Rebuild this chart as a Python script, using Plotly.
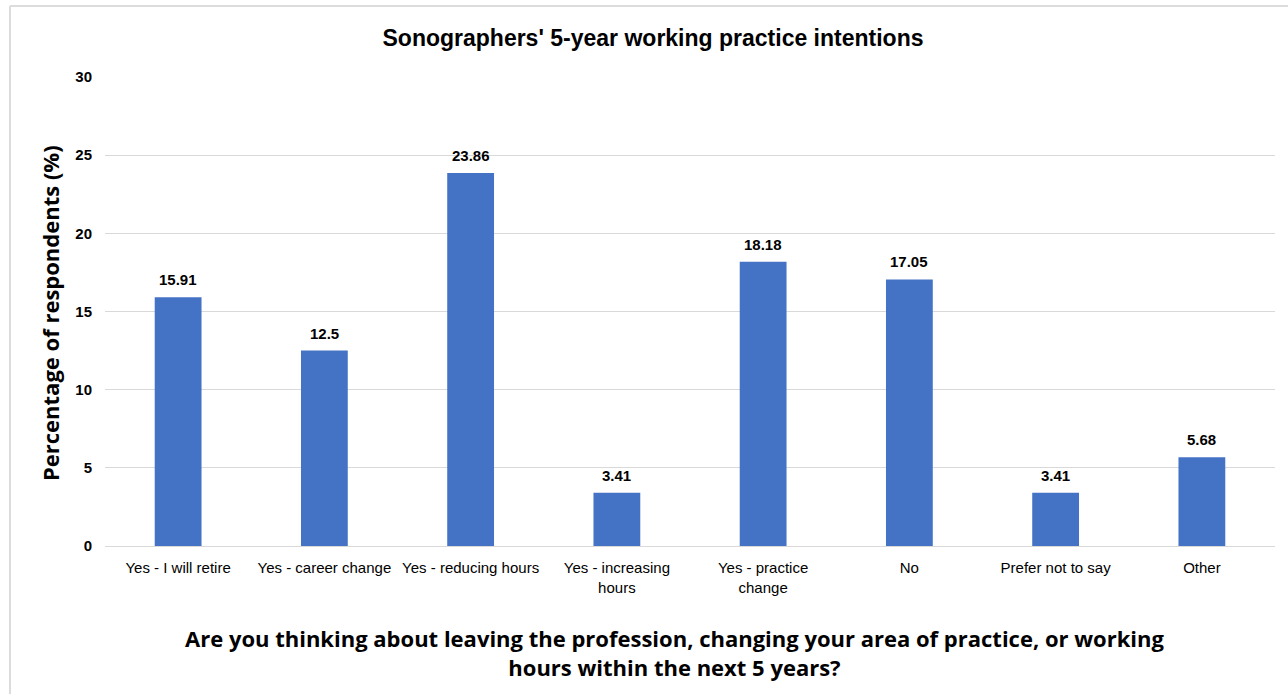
import plotly.graph_objects as go

categories = ["Yes - I will retire", "Yes - career change", "Yes - reducing hours",
              "Yes - increasing<br>hours", "Yes - practice<br>change", "No",
              "Prefer not to say", "Other"]
values = [15.91, 12.5, 23.86, 3.41, 18.18, 17.05, 3.41, 5.68]
value_labels = ["15.91", "12.5", "23.86", "3.41", "18.18", "17.05", "3.41", "5.68"]
y_ticks = [0, 5, 10, 15, 20, 25, 30]

base = "Liberation Sans, Arial"
wide = "Open Sans, Liberation Sans"

fig = go.Figure()
fig.add_trace(go.Bar(
    x=categories, y=values, marker_color="#4472C4", marker_line_width=0,
    width=0.32,
))

for c, v, t in zip(categories, values, value_labels):
    fig.add_annotation(x=c, y=v, text="<b>" + t + "</b>", showarrow=False,
                       yanchor="bottom", yshift=7,
                       font=dict(family=base, size=15, color="#000000"))

L, R, T, B = 105, 13, 77, 148
W, H = 1288, 694
pw, ph = W - L - R, H - T - B

fig.update_layout(
    width=W, height=H,
    margin=dict(l=L, r=R, t=T, b=B),
    paper_bgcolor="white", plot_bgcolor="white",
    showlegend=False,
    title=dict(text="<b>Sonographers' 5-year working practice intentions</b>",
               x=653 / W, xanchor="center", y=1 - 38 / H, yanchor="middle",
               font=dict(family=base, size=23, color="#000000")),
    xaxis=dict(showgrid=False, showline=True, linecolor="#d9d9d9", linewidth=1,
               ticks="", ticklabelstandoff=8,
               tickfont=dict(family=base, size=15, color="#000000")),
    yaxis=dict(range=[0, 30], tickvals=y_ticks, showgrid=True, gridcolor="#d9d9d9",
               zeroline=False, ticks="", ticklabelstandoff=12,
               tickfont=dict(family=base, size=15, color="#000000", weight="bold")),
    shapes=[
        dict(type="line", xref="paper", yref="paper",
             x0=(10 - L) / pw, x1=(1300 - L) / pw,
             y0=(H - B - 6) / ph, y1=(H - B - 6) / ph,
             line=dict(color="#dcdcdc", width=2), layer="below"),
        dict(type="line", xref="paper", yref="paper",
             x0=(10 - L) / pw, x1=(10 - L) / pw,
             y0=(H - B - 710) / ph, y1=(H - B - 6) / ph,
             line=dict(color="#dcdcdc", width=2), layer="below"),
    ],
)

fig.add_annotation(text="<b>Percentage of respondents (%)</b>", textangle=-90,
                   xref="paper", yref="paper", x=(50 - L) / pw, y=(H - B - 313) / ph,
                   xanchor="center", yanchor="middle", showarrow=False,
                   font=dict(family=wide, size=22, color="#000000"))
fig.add_annotation(text="<b>Are you thinking about leaving the profession, changing your area of practice, or working<br>hours within the next 5 years?</b>",
                   xref="paper", yref="paper", x=(674 - L) / pw, y=(H - B - 652) / ph,
                   xanchor="center", yanchor="middle", showarrow=False,
                   font=dict(family=wide, size=22, color="#000000"))

fig.write_html("out.html", config={"displayModeBar": False},
               post_script="document.body.style.margin='0';document.body.style.overflow='hidden';")
